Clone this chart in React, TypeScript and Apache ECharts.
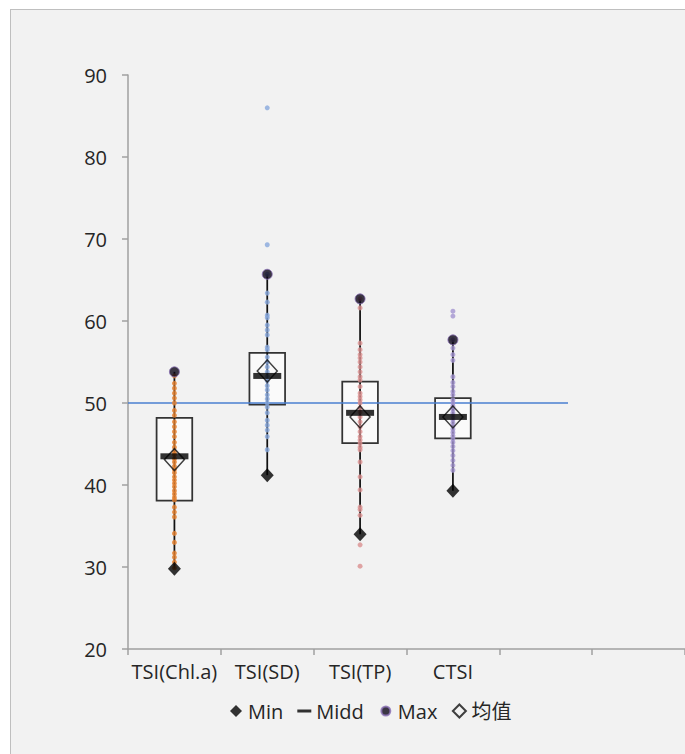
import React, { useEffect, useRef } from "react";
import * as echarts from "echarts";

const categories = ["TSI(Chl.a)", "TSI(SD)", "TSI(TP)", "CTSI", "", ""];
const legendNames = ["Min", "Midd", "Max", "均值"];

const minVals = [29.8, 41.2, 34.0, 39.3];
const q1Vals = [38.1, 49.8, 45.1, 45.7];
const middVals = [43.5, 53.3, 48.8, 48.3];
const q3Vals = [48.2, 56.1, 52.6, 50.6];
const maxVals = [53.8, 65.7, 62.7, 57.7];
const meanVals = [43.1, 53.9, 48.3, 48.3];

const refValue = 50;
const refEnd = 4.74;

const chlaDots = [53.3, 52.4, 51.8, 51.2, 50.6, 50.0, 49.1, 48.5, 47.7, 47.1, 46.5, 45.9, 45.2, 44.6, 44.0, 43.7, 43.2, 42.8, 42.3, 41.9, 41.5, 41.0, 40.6, 40.2, 39.8, 39.3, 38.9, 38.5, 38.2, 37.3, 36.7, 36.1, 34.1, 33.0, 31.7, 31.2, 30.6, 29.9];
const sdDots = [86.0, 69.3, 65.7, 63.4, 62.3, 60.7, 60.4, 59.5, 58.9, 58.3, 56.8, 56.5, 55.6, 55.0, 54.4, 53.8, 53.2, 52.7, 52.1, 51.6, 51.0, 50.5, 50.0, 49.5, 48.8, 47.9, 47.3, 46.7, 45.9, 44.3];
const tpDots = [62.7, 61.6, 57.3, 56.5, 55.9, 55.5, 55.0, 54.4, 53.8, 53.2, 52.8, 52.0, 51.2, 50.8, 50.4, 50.0, 49.4, 48.9, 48.3, 47.7, 47.1, 46.5, 45.9, 45.5, 45.1, 44.6, 44.3, 42.8, 41.0, 39.4, 37.3, 37.0, 36.3, 32.7, 30.1];
const ctsiDots = [61.2, 60.6, 57.7, 56.7, 55.9, 55.2, 53.2, 52.5, 52.0, 51.4, 51.0, 50.4, 50.0, 49.6, 49.2, 48.8, 48.4, 48.0, 47.6, 47.2, 46.8, 46.4, 46.0, 45.6, 45.2, 44.7, 44.2, 43.6, 43.0, 42.4, 41.8];

const dotSets = [chlaDots, sdDots, tpDots, ctsiDots];
const dotColors = ["#e8822e", "#87a7dc", "#d98f8f", "#a293cf"];

const FONT = "'Open Sans', 'Noto Sans CJK SC', sans-serif";
const TEXT = "#262626";
const AXIS = "#a0a0a0";

export default function App() {
  const ref = useRef<HTMLDivElement>(null);
  useEffect(() => {
    if (!ref.current) return;
    const chart = echarts.init(ref.current, undefined, { renderer: "svg" });
    const pos = (i: number) => i + 0.5;
    const boxData = minVals.map((m, i) => [pos(i), m, q1Vals[i], q3Vals[i], maxVals[i]]);

    const dotSeries = dotSets.map((arr, i) => ({
      type: "scatter",
      name: "dots" + i,
      xAxisIndex: 1,
      yAxisIndex: 0,
      symbol: "circle",
      symbolSize: 5,
      z: 4,
      itemStyle: { color: dotColors[i] },
      data: arr.map((v) => [pos(i), v]),
    }));

    chart.setOption({
      animation: false,
      textStyle: { fontFamily: FONT },
      grid: { left: 128, top: 75, width: 562, height: 574 },
      xAxis: [
        {
          type: "category",
          data: categories,
          boundaryGap: true,
          axisLine: { lineStyle: { color: AXIS, width: 1.5 } },
          axisTick: { show: true, length: 6, alignWithLabel: false, lineStyle: { color: AXIS, width: 1.5 } },
          axisLabel: { color: TEXT, fontSize: 20, fontFamily: FONT, margin: 12, interval: 0 },
          splitLine: { show: false },
        },
        { type: "value", min: 0, max: 6, show: false },
      ],
      yAxis: {
        type: "value",
        min: 20,
        max: 90,
        interval: 10,
        axisLine: { show: true, lineStyle: { color: AXIS, width: 1.5 } },
        axisTick: { show: true, length: 6, lineStyle: { color: AXIS, width: 1.5 } },
        axisLabel: { color: TEXT, fontSize: 20, fontFamily: FONT, margin: 21 },
        splitLine: { show: false },
      },
      legend: {
        data: [
          { name: legendNames[0], icon: "path://M0,0L0,0M7,1L13,7L7,13L1,7ZM14,14L14,14" },
          { name: legendNames[1], icon: "path://M0,0L0,0M0,5.5H14V8.5H0ZM14,14L14,14" },
          { name: legendNames[2], icon: "path://M0,0L0,0M2.5,7A4.5,4.5,0,1,1,11.5,7A4.5,4.5,0,1,1,2.5,7ZM14,14L14,14" },
          { name: legendNames[3], icon: "path://M0,0L0,0M7,0.5L13.5,7L7,13.5L0.5,7ZM14,14L14,14" },
        ],
        left: 229,
        top: 701,
        padding: 0,
        itemWidth: 14,
        itemHeight: 14,
        itemGap: 14,
        selectedMode: false,
        textStyle: { color: TEXT, fontSize: 20, fontFamily: FONT },
      },
      series: [
        {
          type: "custom",
          name: "box",
          xAxisIndex: 1,
          yAxisIndex: 0,
          z: 2,
          encode: { x: 0, y: [1, 2, 3, 4] },
          data: boxData,
          renderItem: (params: any, api: any) => {
            const x = api.value(0);
            const lo = api.coord([x, api.value(1)]);
            const q1 = api.coord([x, api.value(2)]);
            const q3 = api.coord([x, api.value(3)]);
            const hi = api.coord([x, api.value(4)]);
            const halfW = api.size([1, 0])[0] * 0.192;
            return {
              type: "group",
              children: [
                {
                  type: "rect",
                  shape: { x: q3[0] - halfW, y: q3[1], width: halfW * 2, height: q1[1] - q3[1] },
                  style: { fill: "#fafafa", stroke: "#333333", lineWidth: 1.75 },
                },
                {
                  type: "line",
                  shape: { x1: lo[0], y1: lo[1], x2: hi[0], y2: hi[1] },
                  style: { stroke: "#111111", lineWidth: 1.75 },
                },
              ],
            };
          },
        },
        {
          type: "line",
          name: "ref",
          xAxisIndex: 1,
          yAxisIndex: 0,
          z: 3,
          symbol: "none",
          lineStyle: { color: "#4a7fd0", width: 1.5 },
          data: [
            [0, refValue],
            [refEnd, refValue],
          ],
        },
        ...dotSeries,
        {
          type: "scatter",
          name: "均值",
          xAxisIndex: 1,
          yAxisIndex: 0,
          z: 5,
          symbol: "diamond",
          symbolSize: [20, 22],
          itemStyle: { color: "rgba(255,255,255,0)", borderColor: "#111111", borderWidth: 1.5 },
          data: meanVals.map((v, i) => [pos(i), v]),
        },
        {
          type: "scatter",
          name: "Midd",
          xAxisIndex: 1,
          yAxisIndex: 0,
          z: 6,
          symbol: "rect",
          symbolSize: [28, 6],
          itemStyle: { color: "#000000" },
          data: middVals.map((v, i) => [pos(i), v]),
        },
        {
          type: "scatter",
          name: "Min",
          xAxisIndex: 1,
          yAxisIndex: 0,
          z: 7,
          symbol: "diamond",
          symbolSize: [13, 14],
          itemStyle: { color: "#000000" },
          data: minVals.map((v, i) => [pos(i), v]),
        },
        {
          type: "scatter",
          name: "Max",
          xAxisIndex: 1,
          yAxisIndex: 0,
          z: 7,
          symbol: "circle",
          symbolSize: 10,
          itemStyle: { color: "#0d0618", borderColor: "#8a6fb5", borderWidth: 1 },
          data: maxVals.map((v, i) => [pos(i), v]),
        },
      ],
    });
    return () => chart.dispose();
  }, []);

  return (
    <div style={{ position: "fixed", left: 0, top: 0, width: 685, height: 754, overflow: "hidden", background: "#ffffff" }}>
      <div
        style={{
          position: "absolute",
          left: 10,
          top: 9,
          width: 760,
          height: 820,
          boxSizing: "border-box",
          border: "1px solid #bfbfbf",
          background: "#f2f2f2",
        }}
      />
      <div ref={ref} style={{ position: "absolute", left: 0, top: 0, width: 685, height: 754 }} />
    </div>
  );
}
